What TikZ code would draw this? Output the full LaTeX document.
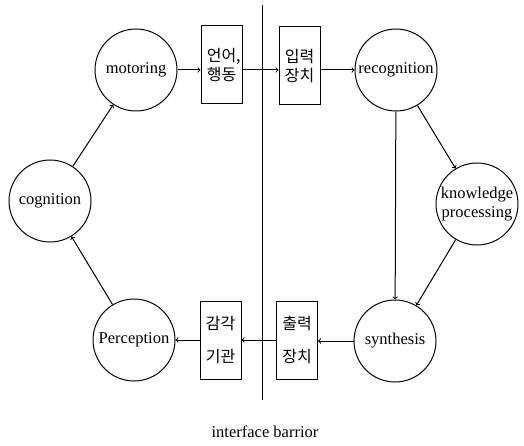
\documentclass[tikz,border=0pt]{standalone}
\usepackage{fontspec}
\setmainfont{Liberation Serif}
\newfontfamily\krfont{Noto Sans CJK KR}

\begin{document}
\begin{tikzpicture}[line width=1pt, x=1pt, y=1pt, >=to]
            \tikzstyle{every node}=[font=\fontsize{16.5}{19}\selectfont]
            \tikzstyle{state}=[draw, black, circle, minimum size=82pt, inner sep=0pt, align=center]
            \tikzstyle{unit}=[draw, black, rectangle, minimum width=41pt, minimum height=78pt, inner sep=0pt, align=center, font=\krfont\fontsize{16}{19}\selectfont]
            \useasboundingbox (0,0) rectangle (524,-446);
            % interface barrior
            \draw [black] (262,-5) -- (262,-400);
            \node (barrior) at (265,-432) {interface barrior};
            % states
            \node [state] (motoring) at (136,-70) {motoring};
            \node [state] (cognition) at (50,-201) {cognition};
            \node [state] (perception) at (134,-340) {Perception};
            \node [state] (recognition) at (396,-70) {recognition};
            \node [state] (knowledge) at (477,-204) {knowledge\\processing};
            \node [state] (synthesis) at (395,-341) {synthesis};
            % units
            \node [unit] (language) at (221.5,-65) {언어\rlap{,}\\행동};
            \node [unit] (input) at (299.5,-66) {입력\\장치};
            \node [unit] (sense) at (220.5,-340) {감각\\[14pt]기관};
            \node [unit] (output) at (297,-340) {출력\\[14pt]장치};
            % connectors
            \draw [->] (motoring.east) -- (language.west |- motoring.east);
            \draw [->] (language.east |- motoring.east) -- (input.west |- motoring.east);
            \draw [->] (input.east |- recognition.west) -- (recognition.west);
            \draw [->] (recognition) -- (knowledge);
            \draw [->] (recognition) -- (synthesis);
            \draw [->] (knowledge) -- (synthesis);
            \draw [->] (synthesis.west) -- (output.east |- synthesis.west);
            \draw [->] (output.west) -- (sense.east);
            \draw [->] (sense.west) -- (perception.east);
            \draw [->] (perception) -- (cognition);
            \draw [->] (cognition) -- (motoring);
        \end{tikzpicture}
\end{document}
